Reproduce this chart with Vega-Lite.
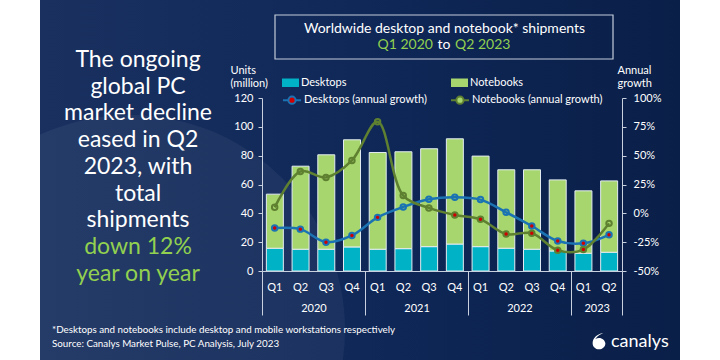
{
  "$schema": "https://vega.github.io/schema/vega-lite/v6.json",
  "width": 360,
  "height": 173,
  "autosize": {"type": "none"},
  "padding": {"left": 262, "top": 98, "right": 98, "bottom": 89},
  "background": "white",
  "config": {
    "font": "Lato",
    "view": {"stroke": null},
    "axis": {"labelFont": "Lato", "titleFont": "Lato"},
    "legend": {"labelFont": "Lato"},
    "text": {"font": "Lato"}
  },
  "datasets": {
    "units": [
      {"quarter": "2020 Q1", "type": "Desktops", "units": 15.8},
      {"quarter": "2020 Q1", "type": "Notebooks", "units": 37.5},
      {"quarter": "2020 Q2", "type": "Desktops", "units": 15.1},
      {"quarter": "2020 Q2", "type": "Notebooks", "units": 57.6},
      {"quarter": "2020 Q3", "type": "Desktops", "units": 15.1},
      {"quarter": "2020 Q3", "type": "Notebooks", "units": 65.5},
      {"quarter": "2020 Q4", "type": "Desktops", "units": 16.7},
      {"quarter": "2020 Q4", "type": "Notebooks", "units": 74.3},
      {"quarter": "2021 Q1", "type": "Desktops", "units": 15.1},
      {"quarter": "2021 Q1", "type": "Notebooks", "units": 67.1},
      {"quarter": "2021 Q2", "type": "Desktops", "units": 15.5},
      {"quarter": "2021 Q2", "type": "Notebooks", "units": 67.2},
      {"quarter": "2021 Q3", "type": "Desktops", "units": 16.9},
      {"quarter": "2021 Q3", "type": "Notebooks", "units": 67.9},
      {"quarter": "2021 Q4", "type": "Desktops", "units": 18.7},
      {"quarter": "2021 Q4", "type": "Notebooks", "units": 73.0},
      {"quarter": "2022 Q1", "type": "Desktops", "units": 16.9},
      {"quarter": "2022 Q1", "type": "Notebooks", "units": 62.8},
      {"quarter": "2022 Q2", "type": "Desktops", "units": 15.8},
      {"quarter": "2022 Q2", "type": "Notebooks", "units": 54.4},
      {"quarter": "2022 Q3", "type": "Desktops", "units": 15.1},
      {"quarter": "2022 Q3", "type": "Notebooks", "units": 55.1},
      {"quarter": "2022 Q4", "type": "Desktops", "units": 13.9},
      {"quarter": "2022 Q4", "type": "Notebooks", "units": 49.3},
      {"quarter": "2023 Q1", "type": "Desktops", "units": 12.3},
      {"quarter": "2023 Q1", "type": "Notebooks", "units": 43.3},
      {"quarter": "2023 Q2", "type": "Desktops", "units": 13.0},
      {"quarter": "2023 Q2", "type": "Notebooks", "units": 49.5}
    ],
    "growth": [
      {"quarter": "2020 Q1", "date": "2020-02-15", "series": "Desktops (annual growth)", "growth": -0.128},
      {"quarter": "2020 Q2", "date": "2020-05-16", "series": "Desktops (annual growth)", "growth": -0.137},
      {"quarter": "2020 Q3", "date": "2020-08-15", "series": "Desktops (annual growth)", "growth": -0.25},
      {"quarter": "2020 Q4", "date": "2020-11-15", "series": "Desktops (annual growth)", "growth": -0.192},
      {"quarter": "2021 Q1", "date": "2021-02-14", "series": "Desktops (annual growth)", "growth": -0.035},
      {"quarter": "2021 Q2", "date": "2021-05-16", "series": "Desktops (annual growth)", "growth": 0.055},
      {"quarter": "2021 Q3", "date": "2021-08-15", "series": "Desktops (annual growth)", "growth": 0.122},
      {"quarter": "2021 Q4", "date": "2021-11-15", "series": "Desktops (annual growth)", "growth": 0.14},
      {"quarter": "2022 Q1", "date": "2022-02-14", "series": "Desktops (annual growth)", "growth": 0.119},
      {"quarter": "2022 Q2", "date": "2022-05-16", "series": "Desktops (annual growth)", "growth": 0.009},
      {"quarter": "2022 Q3", "date": "2022-08-15", "series": "Desktops (annual growth)", "growth": -0.11},
      {"quarter": "2022 Q4", "date": "2022-11-15", "series": "Desktops (annual growth)", "growth": -0.24},
      {"quarter": "2023 Q1", "date": "2023-02-14", "series": "Desktops (annual growth)", "growth": -0.26},
      {"quarter": "2023 Q2", "date": "2023-05-16", "series": "Desktops (annual growth)", "growth": -0.186},
      {"quarter": "2020 Q1", "date": "2020-02-15", "series": "Notebooks (annual growth)", "growth": 0.052},
      {"quarter": "2020 Q2", "date": "2020-05-16", "series": "Notebooks (annual growth)", "growth": 0.363},
      {"quarter": "2020 Q3", "date": "2020-08-15", "series": "Notebooks (annual growth)", "growth": 0.311},
      {"quarter": "2020 Q4", "date": "2020-11-15", "series": "Notebooks (annual growth)", "growth": 0.459},
      {"quarter": "2021 Q1", "date": "2021-02-14", "series": "Notebooks (annual growth)", "growth": 0.794},
      {"quarter": "2021 Q2", "date": "2021-05-16", "series": "Notebooks (annual growth)", "growth": 0.154},
      {"quarter": "2021 Q3", "date": "2021-08-15", "series": "Notebooks (annual growth)", "growth": 0.047},
      {"quarter": "2021 Q4", "date": "2021-11-15", "series": "Notebooks (annual growth)", "growth": -0.015},
      {"quarter": "2022 Q1", "date": "2022-02-14", "series": "Notebooks (annual growth)", "growth": -0.052},
      {"quarter": "2022 Q2", "date": "2022-05-16", "series": "Notebooks (annual growth)", "growth": -0.18},
      {"quarter": "2022 Q3", "date": "2022-08-15", "series": "Notebooks (annual growth)", "growth": -0.172},
      {"quarter": "2022 Q4", "date": "2022-11-15", "series": "Notebooks (annual growth)", "growth": -0.32},
      {"quarter": "2023 Q1", "date": "2023-02-14", "series": "Notebooks (annual growth)", "growth": -0.314},
      {"quarter": "2023 Q2", "date": "2023-05-16", "series": "Notebooks (annual growth)", "growth": -0.087}
    ]
  },
  "layer": [
    {
      "data": {"values": [{}]},
      "mark": {
        "type": "rect",
        "fill": {"gradient": "linear", "x1": 0, "y1": 0, "x2": 1, "y2": 0,
          "stops": [{"offset": 0, "color": "#1a3160"}, {"offset": 0.5, "color": "#0f2858"}, {"offset": 1, "color": "#0a1f48"}]}
      },
      "encoding": {"x": {"value": -222}, "x2": {"value": 418}, "y": {"value": -98}, "y2": {"value": 262}}
    },
    {
      "data": {"values": [{}]},
      "mark": {"type": "point", "shape": "circle", "filled": true, "color": "white", "opacity": 0.05, "size": 184900},
      "encoding": {"x": {"value": -132}, "y": {"value": 232}}
    },
    {
      "data": {"name": "units"},
      "mark": {"type": "bar", "stroke": "#e3ecf3", "strokeWidth": 1},
      "encoding": {
        "x": {
          "field": "quarter", "type": "nominal",
          "scale": {"domain": ["2020 Q1","2020 Q2","2020 Q3","2020 Q4","2021 Q1","2021 Q2","2021 Q3","2021 Q4","2022 Q1","2022 Q2","2022 Q3","2022 Q4","2023 Q1","2023 Q2"], "paddingInner": 0.34, "paddingOuter": 0.17},
          "axis": {"orient": "bottom", "title": null, "labelExpr": "slice(datum.value, 5)", "ticks": false, "labelAngle": 0, "labelColor": "white", "labelFontSize": 11, "labelBaseline": "alphabetic", "labelPadding": 19, "domainColor": "#c9d1de", "domainWidth": 1, "zindex": 1}
        },
        "y": {
          "field": "units", "type": "quantitative", "stack": "zero",
          "scale": {"domain": [0, 120], "nice": false},
          "axis": {"orient": "left", "values": [0, 20, 40, 60, 80, 100, 120], "grid": false, "tickSize": 4, "tickColor": "#c9d1de", "domainColor": "#c9d1de", "labelColor": "white", "labelFontSize": 11, "labelPadding": 5,
            "title": ["Units", "(million)"], "titleAngle": 0, "titleAlign": "left", "titleBaseline": "alphabetic", "titleX": -32, "titleY": -25, "titleColor": "white", "titleFontSize": 11, "titleFontWeight": "normal", "titleLineHeight": 13, "zindex": 1}
        },
        "color": {
          "field": "type", "type": "nominal",
          "scale": {"domain": ["Desktops", "Notebooks"], "range": ["#00b2c5", "#a6d66d"]},
          "legend": {"orient": "none", "legendX": 20, "legendY": -24, "direction": "horizontal", "columns": 2, "title": null,
            "symbolType": "M-1,-0.5H1V0.5H-1Z", "symbolSize": 289, "symbolStrokeWidth": 0, "labelColor": "white", "labelFontSize": 11, "labelOffset": 2, "columnPadding": 104, "zindex": 1}
        },
        "order": {"field": "type", "sort": "ascending"}
      }
    },
    {
      "data": {"name": "growth"},
      "encoding": {
        "x": {
          "field": "date", "type": "temporal",
          "scale": {"domain": [{"year": 2020, "month": 1, "date": 1}, {"year": 2023, "month": 7, "date": 1}]},
          "axis": {"orient": "bottom", "title": null,
            "values": [{"year": 2020, "month": 1, "date": 1}, {"year": 2021, "month": 1, "date": 1}, {"year": 2022, "month": 1, "date": 1}, {"year": 2023, "month": 1, "date": 1}, {"year": 2023, "month": 7, "date": 1}],
            "labelExpr": "month(datum.value) >= 6 ? '' : timeFormat(datum.value, '%Y')",
            "labelOffset": {"condition": {"test": "year(datum.value) == 2023", "value": 25.7}, "value": 51.4},
            "tickSize": 44, "tickColor": "#c9d1de", "domain": false, "grid": false, "labelFlush": false, "labelOverlap": false, "labelBound": false,
            "labelColor": "white", "labelFontSize": 11, "labelBaseline": "alphabetic", "labelPadding": -3.3, "labelAngle": 0, "zindex": 1}
        },
        "y": {
          "field": "growth", "type": "quantitative",
          "scale": {"domain": [-0.5, 1], "nice": false, "zero": false},
          "axis": {"orient": "right", "values": [-0.5, -0.25, 0, 0.25, 0.5, 0.75, 1], "labelExpr": "round(datum.value * 100) + '%'", "grid": false, "tickSize": 4, "tickColor": "#c9d1de", "domainColor": "#c9d1de", "labelColor": "white", "labelFontSize": 11, "labelPadding": 7,
            "title": ["Annual", "growth"], "titleAngle": 0, "titleAlign": "left", "titleBaseline": "alphabetic", "titleX": -5, "titleY": -25, "titleColor": "white", "titleFontSize": 11, "titleFontWeight": "normal", "titleLineHeight": 13, "zindex": 1}
        },
        "stroke": {
          "field": "series", "type": "nominal",
          "scale": {"domain": ["Desktops (annual growth)", "Notebooks (annual growth)"], "range": ["#1b73b3", "#5e8030"]},
          "legend": {"orient": "none", "legendX": 20, "legendY": -8, "direction": "horizontal", "columns": 2, "title": null,
            "symbolType": "M-1,0H-0.4M0.4,0H1M0.4,0A0.4,0.4,0,1,1,-0.4,0A0.4,0.4,0,1,1,0.4,0Z", "symbolSize": 324, "symbolStrokeWidth": 2,
            "labelColor": "white", "labelFontSize": 11, "labelOffset": 2, "columnPadding": 20, "zindex": 1,
            "encode": {"symbols": {"update": {"fill": {"signal": "datum.value === 'Desktops (annual growth)' ? '#d00000' : '#a6d66d'"}, "fillOpacity": {"value": 1}}}}}
        }
      },
      "layer": [
        {"mark": {"type": "line", "interpolate": "catmull-rom", "strokeWidth": 2.5}},
        {
          "mark": {"type": "point", "filled": true, "size": 30, "strokeWidth": 2, "opacity": 1},
          "encoding": {
            "fill": {"condition": {"test": "datum.growth < 0 && (datum.series == 'Desktops (annual growth)' || datum.quarter != '2023 Q2')", "value": "#d00000"}, "value": "transparent"}
          }
        }
      ]
    },
    {
      "data": {"values": [{}]},
      "mark": {"type": "rect", "fill": null, "stroke": "#c3cbd9", "strokeWidth": 1.2},
      "encoding": {"x": {"value": 13}, "x2": {"value": 351}, "y": {"value": -83}, "y2": {"value": -39}}
    },
    {
      "data": {"values": [{}]},
      "mark": {"type": "text", "text": "Worldwide desktop and notebook* shipments", "align": "center", "baseline": "alphabetic", "fontSize": 14, "color": "white"},
      "encoding": {"x": {"value": 182.5}, "y": {"value": -65}}
    },
    {
      "data": {"values": [{}]},
      "mark": {"type": "text", "text": "Q1 2020", "align": "right", "baseline": "alphabetic", "fontSize": 14, "color": "#92d050"},
      "encoding": {"x": {"value": 171}, "y": {"value": -48.7}}
    },
    {
      "data": {"values": [{}]},
      "mark": {"type": "text", "text": "to", "align": "center", "baseline": "alphabetic", "fontSize": 14, "color": "white"},
      "encoding": {"x": {"value": 182}, "y": {"value": -48.7}}
    },
    {
      "data": {"values": [{}]},
      "mark": {"type": "text", "text": "Q2 2023", "align": "left", "baseline": "alphabetic", "fontSize": 14, "color": "#92d050"},
      "encoding": {"x": {"value": 193}, "y": {"value": -48.7}}
    },
    {
      "data": {"values": [{}]},
      "mark": {"type": "text", "text": ["The ongoing", "global PC", "market decline", "eased in Q2", "2023, with", "total", "shipments"], "align": "center", "baseline": "alphabetic", "fontSize": 23, "lineHeight": 26.7, "color": "white"},
      "encoding": {"x": {"value": -124}, "y": {"value": -31}}
    },
    {
      "data": {"values": [{}]},
      "mark": {"type": "text", "text": ["down 12%", "year on year"], "align": "center", "baseline": "alphabetic", "fontSize": 23, "lineHeight": 26.7, "color": "#92d050"},
      "encoding": {"x": {"value": -124}, "y": {"value": 156}}
    },
    {
      "data": {"values": [{}]},
      "mark": {"type": "text", "text": ["*Desktops and notebooks include desktop and mobile workstations respectively", "Source: Canalys Market Pulse, PC Analysis, July 2023"], "align": "left", "baseline": "alphabetic", "fontSize": 9.8, "lineHeight": 14, "color": "white"},
      "encoding": {"x": {"value": -210}, "y": {"value": 235}}
    },
    {
      "data": {"values": [{}]},
      "mark": {"type": "point", "filled": true, "opacity": 1, "color": "white", "size": 289,
        "shape": "M0.5,-0.95C-0.3,-0.8,-0.75,-0.3,-0.75,0.25A0.75,0.72,0,1,0,0.75,0.25A0.75,0.72,0,0,0,-0.45,-0.2C-0.2,-0.6,0.2,-0.85,0.5,-0.95Z"},
      "encoding": {"x": {"value": 337}, "y": {"value": 243}}
    },
    {
      "data": {"values": [{}]},
      "mark": {"type": "text", "text": "canalys", "align": "left", "baseline": "alphabetic", "fontSize": 18, "color": "white"},
      "encoding": {"x": {"value": 349}, "y": {"value": 249}}
    }
  ],
  "resolve": {"scale": {"x": "independent", "y": "independent"}}
}
